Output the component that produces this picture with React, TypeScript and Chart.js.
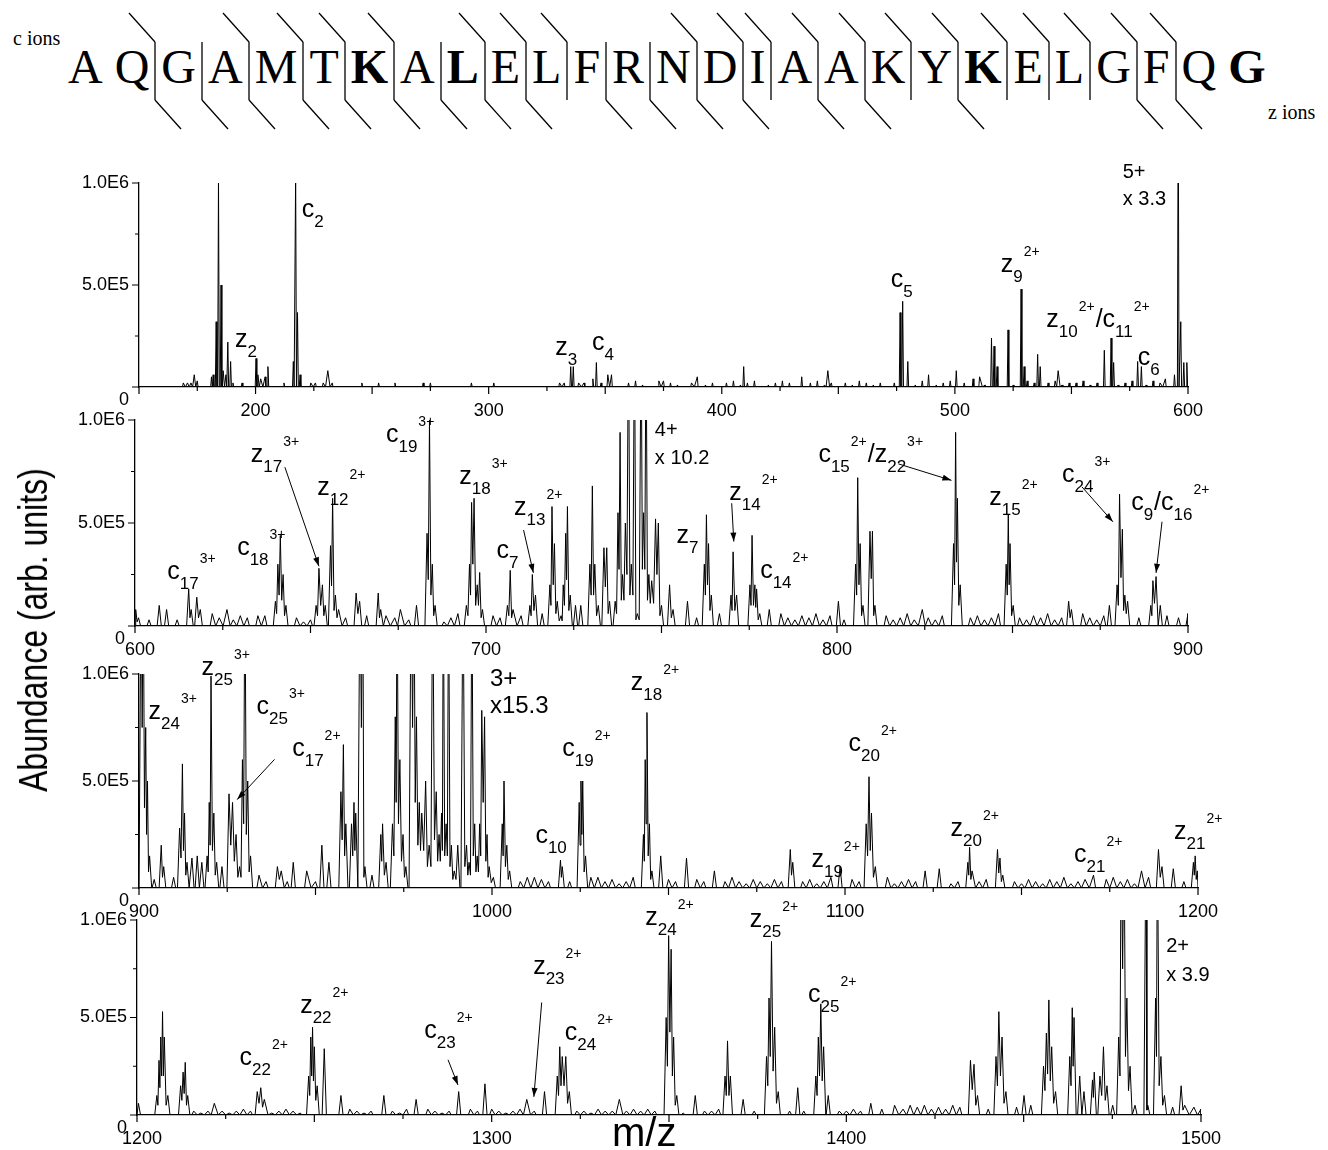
import React, { useEffect, useRef } from 'react';
import { Chart, registerables } from 'chart.js';

Chart.register(...registerables);

type Peak = [number, number];
type Label = [string, number, number];
type Arrow = [number, number, number, number];
type Note = [string, number, number, number];

// ---------------- data ----------------
const SEQUENCE = 'AQGAMTKALELFRNDIAAKYKELGFQG'.split('');
const BOLD_RESIDUES = [6, 8, 20, 26];
const C_IONS = [2, 4, 5, 6, 7, 9, 10, 11, 14, 15, 16, 17, 18, 19, 20, 21, 22, 23, 24, 25];
const Z_IONS = [25, 24, 23, 22, 21, 20, 19, 18, 17, 15, 14, 13, 12, 10, 9, 7, 3, 2];

const FULL_SCALE = 1000000;
const Y_TICK_VALUES = [0, 250000, 500000, 750000, 1000000];
const Y_LABEL_VALUES = [0, 500000, 1000000];
const Y_TICK_LABELS = ['0', '5.0E5', '1.0E6'];

// Panel 1 : m/z 150-600 (intensities relative to 1.0E6)
const P1_RANGE = [150, 600];
const P1_XLABELS = [200, 300, 400, 500, 600];
const P1_PEAKS: Peak[] = [
  [169.0, 0.02], [170.8, 0.02], [172.3, 0.02], [173.7, 0.06], [175.0, 0.03], [181.1, 0.05], [181.8, 0.06],
  [183.1, 0.32], [184.1, 1.02], [185.2, 0.5], [186.1, 0.08], [187.3, 0.06], [188.1, 0.22], [189.3, 0.125],
  [190.3, 0.02], [194.2, 0.02], [200.2, 0.14], [201.0, 0.06], [202.2, 0.04], [204.1, 0.05], [205.3, 0.1],
  [212.2, 0.02], [216.2, 0.125], [217.2, 1.05], [218.0, 0.365], [219.1, 0.06], [223.7, 0.02], [225.7, 0.02],
  [229.0, 0.02], [231.0, 0.08], [232.9, 0.02], [245.6, 0.02], [252.8, 0.02], [259.8, 0.02], [271.9, 0.02],
  [275.0, 0.02], [292.6, 0.02], [302.2, 0.02], [330.4, 0.02], [332.4, 0.02], [335.2, 0.1], [336.3, 0.1],
  [338.6, 0.02], [340.9, 0.02], [344.7, 0.04], [346.2, 0.12], [348.2, 0.02], [351.1, 0.06], [352.7, 0.06],
  [373.0, 0.03], [389.5, 0.05], [409.4, 0.1], [434.3, 0.05], [445.5, 0.08], [476.5, 0.365], [477.6, 0.42],
  [479.8, 0.125], [488.7, 0.06], [500.6, 0.08], [507.8, 0.04], [510.6, 0.05], [515.7, 0.24], [516.8, 0.2],
  [518.1, 0.1], [522.8, 0.28], [528.4, 0.48], [529.7, 0.1], [535.5, 0.16], [536.6, 0.1], [544.3, 0.08],
  [564.1, 0.18], [567.0, 0.24], [568.1, 0.12], [578.4, 0.125], [580.0, 0.1], [590.3, 0.04], [594.2, 0.06],
  [595.8, 1.5], [596.9, 0.32], [598.2, 0.12], [599.5, 0.12],
];
const P1_NOISE_START = 360;
const P1_NOISE_STEP = 3;
const P1_NOISE = [
  2, 3, 1, 0, 2, 3, 2, 1, 0, 2, 3, 1, 2, 0, 2, 3, 1, 2, 3, 0, 1, 2, 3, 2, 0, 1, 2, 3, 1, 2,
  0, 2, 1, 3, 2, 1, 2, 0, 2, 3, 2, 1, 3, 2, 1, 2, 3, 1, 2, 2, 3, 1, 2, 3, 2, 1, 2, 3, 2, 1,
  2, 3, 1, 2, 2, 3, 1, 2, 3, 2, 1, 2, 3, 2, 1, 3, 2, 2, 3, 2, 3,
];
const P1_LABELS: Label[] = [
  ['c_{2}', 219.8, 835000], ['z_{2}', 191.2, 198000], ['z_{3}', 328.6, 157000], ['c_{4}', 344.3, 181000],
  ['c_{5}', 472.5, 491000], ['z_{9}^{2+}', 519.7, 565000], ['z_{10}^{2+}/c_{11}^{2+}', 539.2, 296000],
  ['c_{6}', 578.4, 108000],
];
const P1_ARROWS: Arrow[] = [];
const P1_NOTES: Note[] = [['5+', 572, 1025000, 20], ['x 3.3', 572, 892000, 20]];

// Panel 2 : m/z 600-900
const P2_RANGE = [600, 900];
const P2_XLABELS = [600, 700, 800, 900];
const P2_PEAKS: Peak[] = [
  [600.2, 0.08], [601.0, 0.04], [606.9, 0.1], [609.0, 0.08], [615.3, 0.18], [616.0, 0.08], [617.6, 0.14],
  [618.6, 0.08], [626.2, 0.08], [635.0, 0.05], [637.0, 0.05], [640.0, 0.12], [640.7, 0.3], [641.4, 0.44],
  [642.2, 0.25], [643.0, 0.1], [651.6, 0.1], [652.4, 0.28], [653.4, 0.2], [654.2, 0.1], [655.7, 0.39],
  [656.3, 0.62], [657.1, 0.15], [658.0, 0.08], [663.0, 0.16], [664.0, 0.12], [669.3, 0.16], [670.0, 0.08],
  [671.5, 0.05], [675.6, 0.08], [680.2, 0.1], [683.2, 0.45], [683.9, 1.0], [684.7, 0.3], [685.5, 0.1],
  [694.4, 0.1], [695.3, 0.3], [695.9, 0.6], [696.6, 0.62], [697.5, 0.2], [698.2, 0.26], [699.0, 0.08],
  [706.1, 0.1], [706.9, 0.27], [707.7, 0.08], [712.5, 0.1], [713.2, 0.25], [714.1, 0.15], [718.2, 0.2],
  [718.8, 0.58], [719.5, 0.4], [720.3, 0.12], [721.4, 0.05], [722.0, 0.2], [722.7, 0.45], [723.2, 0.58],
  [724.0, 0.15], [725.5, 0.1], [727.0, 0.1], [729.6, 0.3], [730.3, 0.68], [731.0, 0.3], [732.0, 0.1],
  [733.6, 0.38], [734.4, 0.38], [735.2, 0.12], [736.8, 0.12], [737.6, 0.55], [738.2, 0.94], [738.9, 0.25],
  [739.7, 0.5], [740.6, 1.5], [741.4, 0.3], [742.3, 1.5], [743.1, 0.06], [744.2, 1.5], [744.9, 0.55],
  [745.6, 1.5], [746.4, 0.25], [747.2, 0.22], [748.3, 0.52], [749.1, 0.5], [750.0, 0.1], [752.3, 0.2],
  [753.3, 0.08], [757.4, 0.12], [762.2, 0.3], [762.8, 0.54], [763.4, 0.4], [764.2, 0.15], [766.5, 0.06],
  [769.8, 0.15], [770.4, 0.36], [771.4, 0.15], [775.2, 0.2], [775.8, 0.44], [776.6, 0.2], [777.1, 0.18],
  [778.0, 0.06], [780.7, 0.08], [800.4, 0.12], [805.3, 0.3], [805.9, 0.72], [806.6, 0.4], [807.4, 0.1],
  [809.4, 0.46], [810.1, 0.46], [810.8, 0.1], [824.3, 0.08], [833.2, 0.4], [833.8, 0.94], [834.3, 0.62],
  [835.1, 0.2], [848.2, 0.3], [848.8, 0.54], [849.3, 0.4], [850.2, 0.1], [866.0, 0.12], [866.8, 0.08],
  [877.6, 0.1], [879.8, 0.2], [880.5, 0.64], [881.3, 0.47], [882.0, 0.15], [882.8, 0.12], [889.4, 0.1],
  [890.0, 0.22], [890.9, 0.24], [892.1, 0.1], [897.3, 0.04],
];
const P2_NOISE_START = 600;
const P2_NOISE_STEP = 2;
const P2_NOISE = [
  7, 4, 3, 5, 9, 6, 3, 4, 2, 5, 3, 6, 4, 2, 3, 5, 4, 2, 6, 3, 4,
  3, 5, 4, 2, 3, 6, 4, 5, 3, 4, 6, 3, 5, 4, 7, 3, 4, 5, 3, 6,
  4, 3, 5, 2, 4, 6, 3, 5, 4, 3, 5, 4, 6, 3, 5, 4, 3, 6, 4, 5,
  4, 6, 3, 5, 4, 7, 5, 6, 4, 5, 6, 4, 7, 5, 6, 4, 5, 3, 6, 4,
  5, 3, 4, 6, 3, 5, 4, 3, 5, 4, 3, 6, 4, 3, 5, 4, 6, 3, 5, 4,
  3, 5, 4, 6, 3, 4, 5, 3, 4, 6, 3, 5, 4, 3, 5, 4, 6, 3, 4, 5,
  3, 4, 6, 3, 5, 4, 3, 5, 4, 6, 3, 4, 5, 3, 6, 4, 3, 5, 4, 6,
  3, 5, 4, 3, 6, 4, 5, 3, 4, 6,
];
const P2_LABELS: Label[] = [
  ['c_{17}^{3+}', 609.2, 226000], ['c_{18}^{3+}', 629.1, 346000], ['z_{17}^{3+}', 633.0, 795000],
  ['z_{12}^{2+}', 651.9, 635000], ['c_{19}^{3+}', 671.5, 891000], ['z_{18}^{3+}', 692.4, 691000],
  ['c_{7}', 703.0, 330000], ['z_{13}^{2+}', 708.0, 538000], ['z_{7}', 754.3, 402000],
  ['z_{14}^{2+}', 769.3, 610000], ['c_{14}^{2+}', 778.1, 234000], ['c_{15}^{2+}/z_{22}^{3+}', 794.7, 795000],
  ['z_{15}^{2+}', 843.4, 587000], ['c_{24}^{3+}', 864.1, 699000], ['c_{9}/c_{16}^{2+}', 883.8, 562000],
];
const P2_ARROWS: Arrow[] = [
  [642.7, 771000, 652.4, 290000], [710.7, 466000, 713.5, 258000], [770.0, 596000, 770.6, 410000],
  [817.5, 787000, 832.6, 707000], [869.8, 675000, 878.6, 506000], [892.6, 506000, 890.9, 258000],
];
const P2_NOTES: Note[] = [['4+', 748.1, 921000, 20], ['x 10.2', 748.1, 785000, 20]];

// Panel 3 : m/z 900-1200
const P3_RANGE = [900, 1200];
const P3_XLABELS = [900, 1000, 1100, 1200];
const P3_PEAKS: Peak[] = [
  [900.6, 1.5], [901.2, 1.5], [901.9, 0.75], [902.4, 0.5], [903.0, 0.15], [904.3, 0.04], [906.3, 0.2],
  [907.0, 0.1], [909.8, 0.05], [911.5, 0.28], [912.3, 0.58], [912.9, 0.35], [913.6, 0.12], [915.0, 0.14],
  [916.5, 0.15], [917.8, 0.12], [919.3, 0.15], [919.9, 0.4], [920.4, 0.99], [921.2, 0.35], [922.0, 0.12],
  [923.5, 0.1], [925.5, 0.44], [926.5, 0.4], [927.5, 0.25], [928.5, 0.1], [929.3, 0.6], [930.0, 1.5],
  [930.8, 0.5], [931.6, 0.15], [939.2, 0.1], [940.3, 0.08], [943.7, 0.12], [947.5, 0.08], [951.8, 0.2],
  [953.8, 0.12], [957.2, 0.45], [957.9, 0.67], [958.6, 0.3], [960.2, 0.3], [960.9, 0.4], [961.4, 0.35],
  [962.6, 1.5], [963.4, 1.5], [964.0, 0.1], [966.0, 0.06], [968.5, 0.25], [969.0, 0.3], [970.0, 0.12],
  [971.8, 0.3], [972.6, 0.8], [973.1, 1.5], [973.9, 0.6], [974.8, 0.25], [975.6, 0.1], [977.1, 1.5],
  [977.9, 1.5], [978.6, 0.8], [979.4, 0.4], [980.1, 0.35], [981.2, 0.5], [982.2, 0.2], [983.2, 1.5],
  [984.2, 0.45], [985.0, 0.25], [985.7, 0.35], [986.2, 1.5], [987.0, 0.3], [987.7, 1.5], [988.5, 0.2],
  [989.3, 0.08], [990.3, 0.2], [991.8, 1.5], [992.8, 0.2], [993.5, 0.12], [994.3, 1.5], [995.1, 0.3],
  [995.8, 0.15], [996.5, 0.3], [997.1, 0.83], [997.9, 0.8], [998.6, 0.25], [999.2, 0.1], [1000.4, 0.05],
  [1002.9, 0.3], [1003.4, 0.5], [1004.2, 0.2], [1005.0, 0.08], [1012.0, 0.05], [1019.4, 0.13],
  [1019.9, 0.1], [1024.7, 0.4], [1025.2, 0.5], [1025.7, 0.5], [1026.5, 0.15], [1028.0, 0.05],
  [1042.9, 0.25], [1043.4, 0.6], [1043.9, 0.82], [1044.6, 0.3], [1045.3, 0.08], [1047.8, 0.15],
  [1055.1, 0.14], [1063.0, 0.08], [1084.5, 0.18], [1085.2, 0.12], [1098.6, 0.1], [1106.0, 0.3],
  [1106.8, 0.52], [1107.5, 0.35], [1108.6, 0.1], [1122.7, 0.08], [1126.7, 0.09], [1134.8, 0.12],
  [1135.3, 0.19], [1136.0, 0.08], [1143.2, 0.18], [1143.9, 0.14], [1144.7, 0.06], [1170.4, 0.06],
  [1184.0, 0.08], [1188.8, 0.18], [1189.8, 0.1], [1193.0, 0.09], [1198.7, 0.12], [1199.2, 0.15],
  [1199.8, 0.08],
];
const P3_NOISE_START = 900;
const P3_NOISE_STEP = 2;
const P3_NOISE = [
  5, 4, 3, 6, 4, 8, 5, 6, 4, 7, 5, 9, 7, 6, 5, 7, 4, 6, 3, 5,
  4, 3, 5, 4, 6, 3, 5, 8, 6, 7, 9, 6, 8, 7, 5, 8, 6, 9, 7, 6,
  8, 7, 9, 6, 8, 7, 6, 5, 4, 3, 4, 3, 5, 4, 3, 5, 2, 4, 3, 5,
  4, 3, 2, 4, 3, 5, 3, 4, 2, 3, 5, 3, 4, 2, 3, 4, 3, 5, 2, 4,
  3, 4, 2, 3, 5, 3, 2, 4, 3, 2, 4, 3, 5, 2, 3, 4, 2, 3, 5, 3,
  2, 4, 3, 2, 4, 3, 5, 2, 3, 4, 3, 2, 4, 3, 5, 2, 3, 4, 2, 3,
  4, 2, 3, 5, 3, 2, 4, 3, 2, 4, 3, 5, 2, 3, 4, 2, 3, 4, 5, 3,
  4, 2, 3, 5, 4, 3, 2, 4, 3, 5, 4,
];
const P3_LABELS: Label[] = [
  ['z_{24}^{3+}', 902.7, 788000], ['z_{25}^{3+}', 917.7, 994000], ['c_{25}^{3+}', 933.3, 811000],
  ['c_{17}^{2+}', 943.4, 619000], ['c_{10}', 1012.3, 211000], ['c_{19}^{2+}', 1019.9, 619000],
  ['z_{18}^{2+}', 1039.3, 925000], ['z_{19}^{2+}', 1090.5, 100000], ['c_{20}^{2+}', 1101.0, 642000],
  ['z_{20}^{2+}', 1129.9, 244000], ['c_{21}^{2+}', 1164.9, 122000], ['z_{21}^{2+}', 1193.2, 229000],
];
const P3_ARROWS: Arrow[] = [[938.4, 601000, 927.8, 413000]];
const P3_NOTES: Note[] = [['3+', 999.4, 945000, 24], ['x15.3', 999.4, 816000, 24]];

// Panel 4 : m/z 1200-1500
const P4_RANGE = [1200, 1500];
const P4_XLABELS = [1200, 1300, 1400, 1500];
const P4_PEAKS: Peak[] = [
  [1200.4, 0.06], [1205.6, 0.1], [1206.2, 0.28], [1206.7, 0.4], [1207.2, 0.53], [1207.7, 0.4],
  [1208.7, 0.1], [1212.3, 0.15], [1213.0, 0.22], [1213.6, 0.27], [1214.3, 0.1], [1221.8, 0.06],
  [1233.9, 0.12], [1234.9, 0.14], [1235.9, 0.08], [1248.4, 0.2], [1249.0, 0.4], [1249.5, 0.45],
  [1250.0, 0.35], [1250.8, 0.15], [1252.8, 0.34], [1257.5, 0.1], [1269.6, 0.1], [1278.7, 0.08],
  [1290.7, 0.12], [1298.1, 0.16], [1309.9, 0.08], [1314.9, 0.12], [1318.5, 0.2], [1319.2, 0.35],
  [1319.9, 0.3], [1320.9, 0.3], [1321.9, 0.12], [1336.0, 0.08], [1349.2, 0.5], [1349.9, 0.92],
  [1350.6, 0.85], [1351.3, 0.4], [1352.2, 0.1], [1357.4, 0.1], [1365.8, 0.2], [1366.5, 0.38],
  [1367.3, 0.2], [1370.9, 0.08], [1377.5, 0.3], [1378.2, 0.6], [1378.9, 0.89], [1379.8, 0.45],
  [1380.8, 0.12], [1386.3, 0.14], [1391.4, 0.2], [1392.1, 0.4], [1392.8, 0.57], [1393.6, 0.35],
  [1394.9, 0.1], [1406.9, 0.06], [1413.6, 0.05], [1435.0, 0.28], [1436.0, 0.26], [1437.0, 0.1],
  [1442.2, 0.3], [1443.0, 0.53], [1443.9, 0.4], [1445.0, 0.12], [1450.1, 0.1], [1455.6, 0.25],
  [1456.4, 0.42], [1457.1, 0.59], [1457.9, 0.35], [1459.0, 0.12], [1463.0, 0.3], [1463.7, 0.55],
  [1464.2, 0.5], [1465.8, 0.2], [1467.0, 0.12], [1469.4, 0.18], [1469.9, 0.22], [1471.5, 0.2],
  [1472.5, 0.35], [1473.5, 0.15], [1475.1, 0.05], [1476.8, 0.4], [1477.5, 1.5], [1478.3, 1.5],
  [1479.1, 0.6], [1480.0, 0.25], [1481.4, 0.05], [1484.5, 1.5], [1485.0, 0.05], [1487.2, 0.6],
  [1487.7, 1.5], [1488.7, 0.3], [1489.7, 0.1], [1494.4, 0.15], [1495.4, 0.05],
];
const P4_NOISE_START = 1200;
const P4_NOISE_STEP = 2;
const P4_NOISE = [
  6, 3, 2, 1, 2, 1, 2, 3, 2, 1, 2, 3, 2, 1, 2, 3, 2, 2, 3, 1,
  2, 3, 2, 1, 3, 2, 2, 3, 1, 2, 3, 2, 1, 2, 3, 2, 2, 1, 3, 2,
  2, 3, 2, 1, 2, 3, 2, 3, 2, 2, 3, 2, 1, 2, 3, 2, 2, 3, 2, 1,
  2, 3, 2, 2, 1, 3, 2, 2, 3, 2, 3, 2, 3, 2, 2, 3, 2, 1, 2, 3,
  2, 2, 3, 1, 2, 3, 2, 2, 1, 2, 2, 1, 2, 1, 2, 1, 1, 2, 1, 2,
  2, 3, 2, 3, 4, 3, 5, 4, 3, 5, 4, 5, 3, 4, 3, 5, 4, 3, 4, 5,
  3, 4, 5, 3, 4, 3, 5, 4, 3, 4, 5, 3, 4, 3, 5, 4, 6, 4, 5, 3,
  4, 5, 3, 4, 3, 5, 4, 6, 3, 4, 3,
];
const P4_LABELS: Label[] = [
  ['c_{22}^{2+}', 1228.9, 258000], ['z_{22}^{2+}', 1246.0, 525000], ['c_{23}^{2+}', 1281.0, 395000],
  ['z_{23}^{2+}', 1311.7, 724000], ['c_{24}^{2+}', 1320.6, 387000], ['z_{24}^{2+}', 1343.3, 974000],
  ['z_{25}^{2+}', 1372.8, 965000], ['c_{25}^{2+}', 1389.2, 577000],
];
const P4_ARROWS: Arrow[] = [[1287.7, 283000, 1290.5, 154000], [1314.1, 577000, 1311.9, 93000]];
const P4_NOTES: Note[] = [['2+', 1490.2, 836000, 20], ['x 3.9', 1490.2, 689000, 20]];

// ---------------- layout / style ----------------
const SANS = '"Liberation Sans", Arial, Helvetica, sans-serif';
const SERIF = '"Liberation Serif", "Times New Roman", Times, serif';
const INK = '#000';
const PAGE_W = 1328;
const PAD_TOP = 40;
const PAD_BOTTOM = 44;

type PanelSpec = {
  id: string;
  range: number[];
  xLabels: number[];
  peaks: Peak[];
  noise: number[];
  noiseStart: number;
  noiseStep: number;
  labels: Label[];
  arrows: Arrow[];
  notes: Note[];
  halfWidth: number;
  box: { left: number; right: number; top: number; bottom: number };
};

const PANELS: PanelSpec[] = [
  { id: 'p1', range: P1_RANGE, xLabels: P1_XLABELS, peaks: P1_PEAKS, noise: P1_NOISE, noiseStart: P1_NOISE_START,
    noiseStep: P1_NOISE_STEP, labels: P1_LABELS, arrows: P1_ARROWS, notes: P1_NOTES, halfWidth: 0.35,
    box: { left: 139, right: 1188, top: 183, bottom: 387 } },
  { id: 'p2', range: P2_RANGE, xLabels: P2_XLABELS, peaks: P2_PEAKS, noise: P2_NOISE, noiseStart: P2_NOISE_START,
    noiseStep: P2_NOISE_STEP, labels: P2_LABELS, arrows: P2_ARROWS, notes: P2_NOTES, halfWidth: 0.6,
    box: { left: 135, right: 1188, top: 420, bottom: 626 } },
  { id: 'p3', range: P3_RANGE, xLabels: P3_XLABELS, peaks: P3_PEAKS, noise: P3_NOISE, noiseStart: P3_NOISE_START,
    noiseStep: P3_NOISE_STEP, labels: P3_LABELS, arrows: P3_ARROWS, notes: P3_NOTES, halfWidth: 0.6,
    box: { left: 139, right: 1198, top: 674, bottom: 888 } },
  { id: 'p4', range: P4_RANGE, xLabels: P4_XLABELS, peaks: P4_PEAKS, noise: P4_NOISE, noiseStart: P4_NOISE_START,
    noiseStep: P4_NOISE_STEP, labels: P4_LABELS, arrows: P4_ARROWS, notes: P4_NOTES, halfWidth: 0.6,
    box: { left: 137, right: 1201, top: 920, bottom: 1115 } },
];

// peak list -> line profile (each peak is a narrow triangle on the baseline)
function buildProfile(p: PanelSpec) {
  const w = p.halfWidth;
  const pts = p.peaks.map(([x, f]) => ({ x, y: f * FULL_SCALE }));
  p.noise.forEach((g, i) => {
    const x = p.noiseStart + i * p.noiseStep;
    if (g > 0 && !p.peaks.some(([px]) => Math.abs(px - x) < 2 * w + 0.4)) pts.push({ x, y: g * 10000 });
  });
  pts.sort((a, b) => a.x - b.x);
  const out: { x: number; y: number }[] = [];
  const small = 0.1 * FULL_SCALE;
  pts.forEach((pt, i) => {
    const prev = pts[i - 1];
    const gap = prev ? pt.x - prev.x : 0;
    if (!prev) out.push({ x: Math.max(p.range[0], pt.x - w), y: 0 });
    else if (gap <= 2 * w) out.push({ x: (prev.x + pt.x) / 2, y: Math.min(prev.y, pt.y) * 0.5 });
    else if (gap <= 2.6 && prev.y < small && pt.y < small) out.push({ x: (prev.x + pt.x) / 2, y: 0 });
    else out.push({ x: prev.x + w, y: 0 }, { x: pt.x - w, y: 0 });
    out.push(pt);
  });
  const last = pts[pts.length - 1];
  out.push({ x: Math.min(p.range[1], last.x + w), y: 0 });
  return out;
}

function parseRich(s: string) {
  const parts: { t: string; k: 'n' | 'sub' | 'sup' }[] = [];
  let i = 0;
  while (i < s.length) {
    if ((s[i] === '_' || s[i] === '^') && s[i + 1] === '{') {
      const end = s.indexOf('}', i);
      parts.push({ t: s.slice(i + 2, end), k: s[i] === '_' ? 'sub' : 'sup' });
      i = end + 1;
    } else {
      let j = i;
      while (j < s.length && !((s[j] === '_' || s[j] === '^') && s[j + 1] === '{')) j++;
      parts.push({ t: s.slice(i, j), k: 'n' });
      i = j;
    }
  }
  return parts;
}

function drawRich(ctx: CanvasRenderingContext2D, text: string, x: number, y: number) {
  let cx = x;
  ctx.textAlign = 'left';
  ctx.textBaseline = 'alphabetic';
  for (const part of parseRich(text)) {
    const size = part.k === 'n' ? 25 : part.k === 'sub' ? 17 : 14;
    const dy = part.k === 'sub' ? 10 : part.k === 'sup' ? -16 : 0;
    ctx.font = `${size}px ${SANS}`;
    ctx.fillText(part.t, cx, y + dy);
    cx += ctx.measureText(part.t).width + (part.k === 'n' ? 0 : 1);
  }
}

function drawArrow(ctx: CanvasRenderingContext2D, x1: number, y1: number, x2: number, y2: number) {
  ctx.lineWidth = 1;
  ctx.beginPath();
  ctx.moveTo(x1, y1);
  ctx.lineTo(x2, y2);
  ctx.stroke();
  const a = Math.atan2(y2 - y1, x2 - x1);
  const L = 9;
  const W = 3;
  ctx.beginPath();
  ctx.moveTo(x2, y2);
  ctx.lineTo(x2 - L * Math.cos(a) + W * Math.sin(a), y2 - L * Math.sin(a) - W * Math.cos(a));
  ctx.lineTo(x2 - L * Math.cos(a) - W * Math.sin(a), y2 - L * Math.sin(a) + W * Math.cos(a));
  ctx.closePath();
  ctx.fill();
}

function decorPlugin(p: PanelSpec) {
  return {
    id: 'decor_' + p.id,
    afterDraw(chart: any) {
      const ctx: CanvasRenderingContext2D = chart.ctx;
      const xs = chart.scales.x;
      const ys = chart.scales.y;
      const base = ys.getPixelForValue(0);
      const left = xs.getPixelForValue(p.range[0]);
      ctx.save();
      ctx.strokeStyle = INK;
      ctx.fillStyle = INK;
      ctx.lineWidth = 1.2;
      ctx.beginPath();
      for (const v of Y_TICK_VALUES) {
        const y = ys.getPixelForValue(v);
        const len = v % 500000 === 0 ? 7 : 4;
        ctx.moveTo(left, y);
        ctx.lineTo(left - len, y);
      }
      for (let v = Math.ceil(p.range[0] / 25) * 25; v <= p.range[1]; v += 25) {
        const x = xs.getPixelForValue(v);
        const len = v % 50 === 0 ? 7 : 4;
        ctx.moveTo(x, base);
        ctx.lineTo(x, base + len);
      }
      ctx.stroke();

      ctx.font = `18px ${SANS}`;
      ctx.textAlign = 'right';
      ctx.textBaseline = 'middle';
      Y_LABEL_VALUES.forEach((v, i) => {
        const y = ys.getPixelForValue(v) + (v === 0 ? 13 : 0);
        ctx.fillText(Y_TICK_LABELS[i], left - 10, y);
      });
      ctx.textAlign = 'center';
      p.xLabels.forEach((v) => {
        const x = xs.getPixelForValue(v) + (v === p.range[0] ? 5 : 0);
        ctx.fillText(String(v), x, base + 24);
      });

      for (const [text, mz, val] of p.labels) drawRich(ctx, text, xs.getPixelForValue(mz), ys.getPixelForValue(val));
      for (const [m1, v1, m2, v2] of p.arrows)
        drawArrow(ctx, xs.getPixelForValue(m1), ys.getPixelForValue(v1), xs.getPixelForValue(m2), ys.getPixelForValue(v2));
      ctx.textAlign = 'left';
      ctx.textBaseline = 'alphabetic';
      for (const [text, mz, val, size] of p.notes) {
        ctx.font = `${size}px ${SANS}`;
        ctx.fillText(text, xs.getPixelForValue(mz), ys.getPixelForValue(val));
      }
      ctx.restore();
    },
  };
}

function SpectrumPanel({ p }: { p: PanelSpec }) {
  const ref = useRef<HTMLCanvasElement>(null);
  const h = p.box.bottom - p.box.top + PAD_TOP + PAD_BOTTOM;
  useEffect(() => {
    const canvas = ref.current;
    if (!canvas) return;
    const chart = new Chart(canvas, {
      type: 'line',
      data: {
        datasets: [
          {
            data: buildProfile(p),
            borderColor: INK,
            borderWidth: 1,
            pointRadius: 0,
            tension: 0,
            fill: false,
          },
        ],
      },
      options: {
        animation: false,
        responsive: false,
        devicePixelRatio: 1,
        parsing: false as any,
        events: [],
        layout: { padding: { left: p.box.left, right: PAGE_W - p.box.right, top: PAD_TOP, bottom: PAD_BOTTOM } },
        plugins: { legend: { display: false }, tooltip: { enabled: false } },
        scales: {
          x: {
            type: 'linear',
            min: p.range[0],
            max: p.range[1],
            grid: { display: false, drawTicks: false },
            border: { display: true, color: INK, width: 1.3 },
            ticks: { display: false },
            afterFit: (s: any) => { s.height = 0; },
          },
          y: {
            type: 'linear',
            min: 0,
            max: FULL_SCALE,
            grid: { display: false, drawTicks: false },
            border: { display: true, color: INK, width: 1.3 },
            ticks: { display: false },
            afterFit: (s: any) => { s.width = 0; },
          },
        },
      } as any,
      plugins: [decorPlugin(p)],
    });
    return () => chart.destroy();
  }, []);
  return (
    <canvas
      ref={ref}
      width={PAGE_W}
      height={h}
      style={{ position: 'absolute', left: 0, top: p.box.top - PAD_TOP, width: PAGE_W, height: h }}
    />
  );
}

function Marker({ c, z }: { c: boolean; z: boolean }) {
  return (
    <svg
      width={60}
      height={125}
      style={{ position: 'absolute', left: 'calc(50% - 30px)', top: -75, overflow: 'visible' }}
    >
      <g stroke={INK} strokeWidth={1.3} fill="none">
        {c && <line x1={4} y1={5} x2={30} y2={34} />}
        <line x1={30} y1={34} x2={30} y2={92} />
        {z && <line x1={30} y1={92} x2={56} y2={121} />}
      </g>
    </svg>
  );
}

function SequenceHeader() {
  return (
    <>
      <div style={{ position: 'absolute', left: 13, top: 28, fontFamily: SERIF, fontSize: 20, lineHeight: '20px' }}>c ions</div>
      <div style={{ position: 'absolute', left: 1268, top: 102, fontFamily: SERIF, fontSize: 20, lineHeight: '20px' }}>z ions</div>
      <div
        style={{ position: 'absolute', left: 68, top: 43, fontFamily: SERIF, fontSize: 48, lineHeight: '48px', whiteSpace: 'nowrap' }}
      >
        {SEQUENCE.map((aa, j) => {
          const cNum = j + 1;
          const zNum = SEQUENCE.length - 1 - j;
          const hasC = C_IONS.includes(cNum);
          const hasZ = Z_IONS.includes(zNum);
          return (
            <React.Fragment key={j}>
              <span style={{ fontWeight: BOLD_RESIDUES.includes(j) ? 'bold' : 'normal' }}>{aa}</span>
              {j < SEQUENCE.length - 1 && (
                <span style={{ display: 'inline-block', width: '0.25em', height: 0, position: 'relative' }}>
                  {(hasC || hasZ) && <Marker c={hasC} z={hasZ} />}
                </span>
              )}
            </React.Fragment>
          );
        })}
      </div>
    </>
  );
}

export default function App() {
  return (
    <div style={{ position: 'absolute', left: 0, top: 0, width: PAGE_W, height: 1150, background: '#fff', color: INK }}>
      <SequenceHeader />
      {PANELS.map((p) => (
        <SpectrumPanel key={p.id} p={p} />
      ))}
      <div
        style={{
          position: 'absolute', left: 33, top: 630, transform: 'translate(-50%, -50%) rotate(-90deg) scaleX(0.8)',
          fontFamily: SANS, fontSize: 40, lineHeight: '40px', whiteSpace: 'nowrap',
        }}
      >
        Abundance (arb. units)
      </div>
      <div style={{ position: 'absolute', left: 612, top: 1112, fontFamily: SANS, fontSize: 40, lineHeight: '40px' }}>m/z</div>
    </div>
  );
}
